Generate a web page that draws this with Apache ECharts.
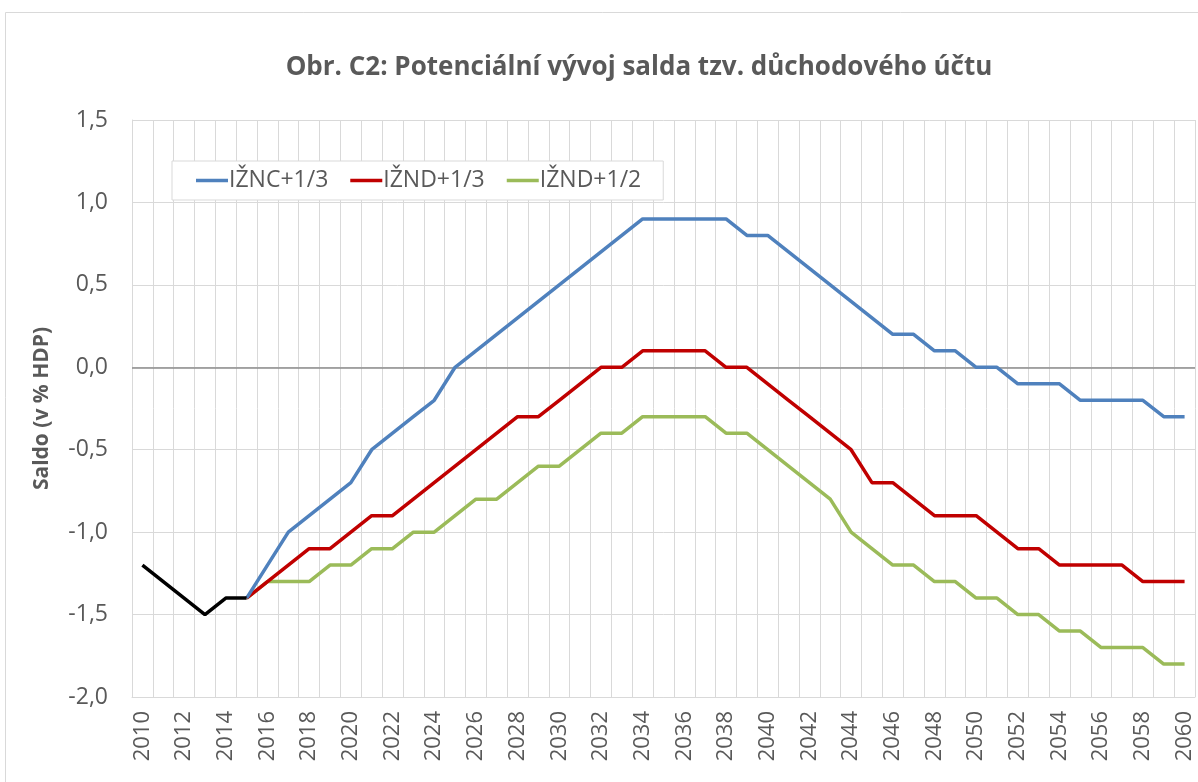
<!DOCTYPE html>
<html>
<head>
<meta charset="utf-8">
<script src="https://cdn.jsdelivr.net/npm/echarts@6/dist/echarts.min.js"></script>
<style>
html,body{margin:0;padding:0;background:#fff;}
#c{width:1198px;height:782px;}
</style>
</head>
<body>
<div id="c"></div>
<script>
var years = [];
for (var y = 2010; y <= 2060; y++) years.push(String(y));

// historical 2010-2015
var historical = [-1.2, -1.3, -1.4, -1.5, -1.4, -1.4];

// scenarios 2015-2060
var iznc13 = [-1.4, -1.2, -1.0, -0.9, -0.8, -0.7, -0.5, -0.4, -0.3, -0.2,
  0.0, 0.1, 0.2, 0.3, 0.4, 0.5, 0.6, 0.7, 0.8, 0.9,
  0.9, 0.9, 0.9, 0.9, 0.8, 0.8, 0.7, 0.6, 0.5, 0.4,
  0.3, 0.2, 0.2, 0.1, 0.1, 0.0, 0.0, -0.1, -0.1, -0.1,
  -0.2, -0.2, -0.2, -0.2, -0.3, -0.3];
var iznd13 = [-1.4, -1.3, -1.2, -1.1, -1.1, -1.0, -0.9, -0.9, -0.8, -0.7,
  -0.6, -0.5, -0.4, -0.3, -0.3, -0.2, -0.1, 0.0, 0.0, 0.1,
  0.1, 0.1, 0.1, 0.0, 0.0, -0.1, -0.2, -0.3, -0.4, -0.5,
  -0.7, -0.7, -0.8, -0.9, -0.9, -0.9, -1.0, -1.1, -1.1, -1.2,
  -1.2, -1.2, -1.2, -1.3, -1.3, -1.3];
var iznd12 = [-1.4, -1.3, -1.3, -1.3, -1.2, -1.2, -1.1, -1.1, -1.0, -1.0,
  -0.9, -0.8, -0.8, -0.7, -0.6, -0.6, -0.5, -0.4, -0.4, -0.3,
  -0.3, -0.3, -0.3, -0.4, -0.4, -0.5, -0.6, -0.7, -0.8, -1.0,
  -1.1, -1.2, -1.2, -1.3, -1.3, -1.4, -1.4, -1.5, -1.5, -1.6,
  -1.6, -1.7, -1.7, -1.7, -1.8, -1.8];

var seriesNames = ['IŽNC+1/3', 'IŽND+1/3', 'IŽND+1/2'];
var seriesColors = ['#4F81BD', '#C00000', '#9BBB59'];
var title = 'Obr. C2: Potenciální vývoj salda tzv. důchodového účtu';
var yName = 'Saldo (v % HDP)';

function padFront(arr, n) { var out = []; for (var i = 0; i < n; i++) out.push(null); return out.concat(arr); }
function padBack(arr, total) { var out = arr.slice(); while (out.length < total) out.push(null); return out; }

var FONT = 'Open Sans';
var TXT = '#595959';
var chart = echarts.init(document.getElementById('c'), null, {renderer: 'canvas'});

var scen = [iznc13, iznd13, iznd12];
var series = scen.map(function (d, i) {
  return {
    name: seriesNames[i], type: 'line', data: padFront(d, 5),
    showSymbol: false, symbol: 'none', connectNulls: false,
    lineStyle: {color: seriesColors[i], width: 3.5}, itemStyle: {color: seriesColors[i]},
    z: 3 + (2 - i)
  };
});
series.push({
  name: 'hist', type: 'line', data: padBack(historical, years.length),
  symbol: 'none', lineStyle: {color: '#000', width: 3.5}, itemStyle: {color: '#000'}, z: 6,
  markLine: {
    silent: true, symbol: 'none', label: {show: false},
    lineStyle: {color: '#8C8C8C', width: 1.5, type: 'solid'},
    data: [{yAxis: 0}], z: 2
  }
});

chart.setOption({
  animation: false,
  backgroundColor: '#fff',
  graphic: [{
    type: 'rect', shape: {x: 5.5, y: 12.5, width: 1300, height: 900},
    style: {fill: 'none', stroke: '#D9D9D9', lineWidth: 1}, z: -10
  }],
  title: {
    text: title, left: 634, top: 50, textAlign: 'center',
    textStyle: {fontFamily: FONT, fontWeight: 'bold', fontSize: 26, color: TXT}
  },
  legend: {
    data: seriesNames, left: 172, top: 161, width: 560,
    icon: 'rect', itemWidth: 32, itemHeight: 3.5, itemGap: 22,
    padding: [8, 22, 8, 24],
    borderColor: '#D9D9D9', borderWidth: 1, backgroundColor: '#fff',
    textStyle: {fontFamily: FONT, fontSize: 23, color: TXT, padding: [0, 0, 0, -4]}
  },
  grid: {left: 132, right: 3, top: 120, bottom: 85, containLabel: false},
  xAxis: {
    type: 'category', data: years, boundaryGap: true,
    axisLine: {show: true, onZero: false, lineStyle: {color: '#D9D9D9'}},
    axisTick: {show: false},
    axisLabel: {interval: 1, rotate: 90, fontFamily: FONT, fontSize: 22, color: TXT, margin: 14},
    splitLine: {show: true, interval: 0, lineStyle: {color: '#D9D9D9', width: 1}}
  },
  yAxis: {
    type: 'value', min: -2, max: 1.5, interval: 0.5,
    name: yName, nameLocation: 'middle', nameGap: 79, nameRotate: 90,
    nameTextStyle: {fontFamily: FONT, fontWeight: 'bold', fontSize: 21, color: TXT},
    axisLine: {show: true, lineStyle: {color: '#D9D9D9'}},
    axisTick: {show: false},
    axisLabel: {fontFamily: FONT, fontSize: 23, color: TXT, margin: 24,
      formatter: function (v) { return v.toFixed(1).replace('.', ','); }},
    splitLine: {show: true, lineStyle: {color: '#D9D9D9', width: 1}}
  },
  series: series
});
</script>
</body>
</html>
